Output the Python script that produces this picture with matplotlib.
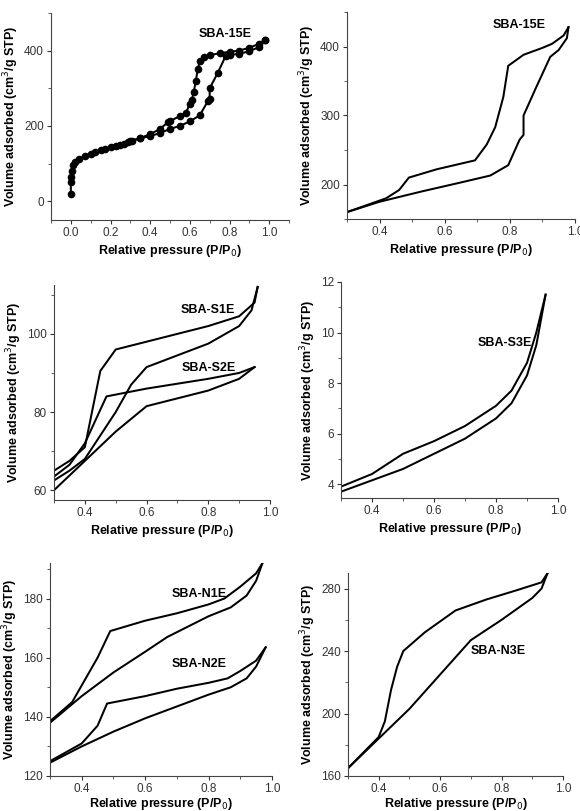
import matplotlib.pyplot as plt
from matplotlib.ticker import MultipleLocator

plt.rcParams['font.family'] = ['Liberation Sans', 'DejaVu Sans']

# SBA-15E isotherm, full range (top-left, with symbols)
ads_15_p = [0.0, 0.0, 0.002, 0.005, 0.01, 0.02, 0.04, 0.07, 0.1, 0.12, 0.15, 0.17,
            0.2, 0.23, 0.25, 0.27, 0.29, 0.31, 0.35, 0.4, 0.45, 0.5, 0.55, 0.6,
            0.65, 0.69, 0.7, 0.7, 0.74, 0.78, 0.8, 0.85, 0.9, 0.95, 0.98]
ads_15_v = [20, 50, 65, 80, 95, 105, 112, 120, 125, 130, 135, 138,
            143, 147, 150, 153, 157, 160, 167, 173, 181, 192, 200, 212,
            228, 265, 272, 300, 340, 385, 388, 392, 398, 410, 428]
des_15_p = [0.98, 0.95, 0.9, 0.85, 0.8, 0.75, 0.7, 0.67, 0.65, 0.64, 0.63, 0.62,
            0.61, 0.6, 0.58, 0.55, 0.5, 0.49, 0.45, 0.4, 0.35, 0.3]
des_15_v = [428, 418, 408, 400, 397, 393, 388, 383, 372, 350, 320, 290,
            270, 258, 235, 226, 213, 210, 192, 178, 168, 160]

# SBA-15E, hysteresis region (top-right, lines only)
ads_15z_p = [0.3, 0.4, 0.53, 0.65, 0.74, 0.795, 0.83, 0.842, 0.842, 0.88, 0.924, 0.95, 0.975, 0.98]
ads_15z_v = [160, 175, 190, 203, 213, 228, 265, 272, 300, 340, 385, 395, 412, 428]
des_15z_p = [0.98, 0.965, 0.93, 0.9, 0.842, 0.795, 0.78, 0.755, 0.729, 0.693, 0.575, 0.49,
             0.46, 0.42, 0.3]
des_15z_v = [428, 416, 404, 398, 388, 372, 327, 283, 258, 235, 222, 210,
             192, 180, 160]

# SBA-S1E / SBA-S2E
ads_s1_p = [0.3, 0.35, 0.4, 0.45, 0.5, 0.55, 0.6, 0.7, 0.8, 0.9, 0.94, 0.96]
ads_s1_v = [62.5, 65, 68, 74, 80, 87, 91.5, 94.5, 97.5, 102, 106, 112]
des_s1_p = [0.96, 0.95, 0.9, 0.8, 0.7, 0.6, 0.5, 0.45, 0.4, 0.35, 0.3]
des_s1_v = [112, 108, 104.5, 102, 100, 98, 96, 90.5, 71, 67.5, 65]
ads_s2_p = [0.3, 0.4, 0.5, 0.6, 0.7, 0.8, 0.9, 0.95]
ads_s2_v = [60, 67.5, 75, 81.5, 83.5, 85.5, 88.5, 91.5]
des_s2_p = [0.95, 0.9, 0.8, 0.6, 0.47, 0.4, 0.35, 0.3]
des_s2_v = [91.5, 90, 88.5, 86, 84, 72, 66.5, 63.5]

# SBA-S3E
ads_s3_p = [0.3, 0.4, 0.5, 0.6, 0.7, 0.8, 0.85, 0.9, 0.93, 0.96]
ads_s3_v = [3.7, 4.15, 4.6, 5.2, 5.8, 6.6, 7.2, 8.3, 9.5, 11.5]
des_s3_p = [0.96, 0.93, 0.9, 0.85, 0.8, 0.7, 0.6, 0.5, 0.45, 0.4, 0.3]
des_s3_v = [11.5, 10.0, 8.8, 7.7, 7.1, 6.3, 5.7, 5.2, 4.8, 4.4, 3.9]

# SBA-N1E / SBA-N2E
ads_n1_p = [0.3, 0.4, 0.5, 0.6, 0.67, 0.8, 0.87, 0.92, 0.95, 0.97]
ads_n1_v = [138, 147, 155, 162, 167, 174, 177, 181, 186, 192]
des_n1_p = [0.97, 0.95, 0.9, 0.85, 0.8, 0.7, 0.6, 0.49, 0.45, 0.37, 0.3]
des_n1_v = [192, 188.5, 184, 180, 178, 175, 172.5, 169, 160, 145, 138.5]
ads_n2_p = [0.3, 0.4, 0.5, 0.6, 0.7, 0.8, 0.87, 0.92, 0.95, 0.98]
ads_n2_v = [124.5, 130, 135, 139.5, 143.5, 147.5, 150, 153, 157, 163.5]
des_n2_p = [0.98, 0.95, 0.9, 0.86, 0.8, 0.7, 0.6, 0.48, 0.45, 0.4, 0.3]
des_n2_v = [163.5, 159, 155.5, 153, 151.5, 149.5, 147, 144.5, 137, 131, 125]

# SBA-N3E
ads_n3_p = [0.3, 0.4, 0.5, 0.6, 0.7, 0.8, 0.9, 0.93, 0.95]
ads_n3_v = [165, 184, 203, 225, 247, 260, 274, 280, 290]
des_n3_p = [0.95, 0.93, 0.85, 0.75, 0.65, 0.55, 0.48, 0.46, 0.44, 0.42, 0.4, 0.35, 0.3]
des_n3_v = [290, 284, 279, 273, 266, 252, 240, 230, 215, 195, 185, 175, 165]

W, H = 580, 811
fig = plt.figure(figsize=(W / 100, H / 100), dpi=100)


def panel(left, right, top, bottom, xlim, ylim, xmaj, ymaj, xpad=3):
    ax = fig.add_axes([left / W, 1 - bottom / H, (right - left) / W, (bottom - top) / H])
    ax.set_xlim(*xlim)
    ax.set_ylim(*ylim)
    ax.xaxis.set_major_locator(MultipleLocator(xmaj))
    ax.xaxis.set_minor_locator(MultipleLocator(xmaj / 2))
    ax.yaxis.set_major_locator(MultipleLocator(ymaj))
    ax.yaxis.set_minor_locator(MultipleLocator(ymaj / 2))
    for s in ['top', 'right']:
        ax.spines[s].set_visible(False)
    for s in ['left', 'bottom']:
        ax.spines[s].set_linewidth(0.8)
        ax.spines[s].set_color('#444444')
    ax.tick_params(which='major', direction='out', length=3, width=0.8, labelsize=8.5,
                   colors='#333333', pad=2)
    ax.tick_params(which='minor', direction='out', length=2, width=0.6, colors='#444444')
    ax.xaxis.set_major_formatter(plt.FormatStrFormatter('%.1f'))
    ax.set_xlabel('Relative pressure (P/P$_0$)', fontsize=9, fontweight='bold', labelpad=xpad)
    ax.set_ylabel('Volume adsorbed (cm$^3$/g STP)', fontsize=9, fontweight='bold', labelpad=2)
    return ax


lw = 1.45
kw = dict(color='black', lw=lw)
lab = dict(fontsize=9, fontweight='bold', ha='center', va='center')

# top-left
ax1 = panel(51, 289, 13, 220, (-0.1, 1.1), (-50, 500), 0.2, 200)
ax1.plot(ads_15_p, ads_15_v, marker='o', ms=4.5, **kw)
ax1.plot(des_15_p, des_15_v, marker='o', ms=4.5, **kw)
ax1.text(0.78, 443, 'SBA-15E', **lab)

# top-right
ax2 = panel(347, 575, 12, 219, (0.3, 1.0), (150, 450), 0.2, 100)
ax2.plot(ads_15z_p, ads_15z_v, **kw)
ax2.plot(des_15z_p, des_15z_v, **kw)
ax2.set_xticks([0.4, 0.6, 0.8, 1.0])
ax2.text(0.83, 431, 'SBA-15E', **lab)

# middle-left
ax3 = panel(54, 270, 285, 500, (0.3, 1.0), (57.5, 112.5), 0.2, 20)
ax3.plot(ads_s1_p, ads_s1_v, **kw)
ax3.plot(des_s1_p, des_s1_v, **kw)
ax3.plot(ads_s2_p, ads_s2_v, **kw)
ax3.plot(des_s2_p, des_s2_v, **kw)
ax3.set_xticks([0.4, 0.6, 0.8, 1.0])
ax3.text(0.8, 106.2, 'SBA-S1E', **lab)
ax3.text(0.8, 91.2, 'SBA-S2E', **lab)

# middle-right
ax4 = panel(341, 558, 282, 498, (0.3, 1.0), (3.45, 12.0), 0.2, 2)
ax4.plot(ads_s3_p, ads_s3_v, **kw)
ax4.plot(des_s3_p, des_s3_v, **kw)
ax4.set_xticks([0.4, 0.6, 0.8, 1.0])
ax4.yaxis.set_major_formatter(plt.FormatStrFormatter('%d'))
ax4.text(0.83, 9.6, 'SBA-S3E', **lab)

# bottom-left
ax5 = panel(50, 272, 563, 776, (0.3, 1.0), (120, 192), 0.2, 20, xpad=1)
ax5.plot(ads_n1_p, ads_n1_v, **kw)
ax5.plot(des_n1_p, des_n1_v, **kw)
ax5.plot(ads_n2_p, ads_n2_v, **kw)
ax5.plot(des_n2_p, des_n2_v, **kw)
ax5.set_xticks([0.4, 0.6, 0.8, 1.0])
ax5.text(0.77, 181.5, 'SBA-N1E', **lab)
ax5.text(0.77, 157.8, 'SBA-N2E', **lab)

# bottom-right
ax6 = panel(348, 563, 573, 776, (0.3, 1.0), (160, 290), 0.2, 40, xpad=1)
ax6.plot(ads_n3_p, ads_n3_v, **kw)
ax6.plot(des_n3_p, des_n3_v, **kw)
ax6.set_xticks([0.4, 0.6, 0.8, 1.0])
ax6.text(0.79, 240, 'SBA-N3E', **lab)

fig.savefig('out.png', dpi=100)
